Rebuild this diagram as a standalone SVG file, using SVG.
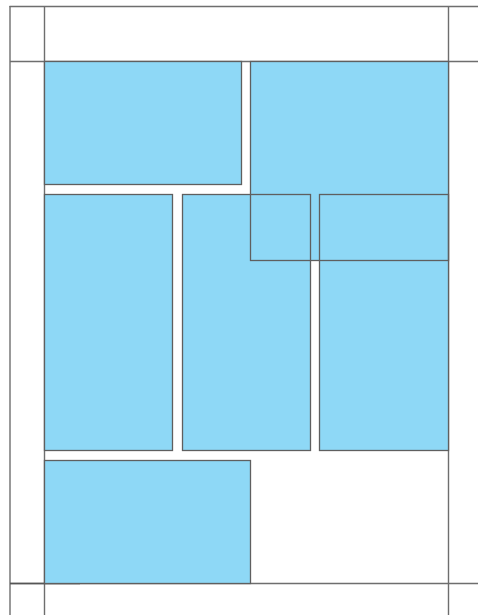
<svg xmlns="http://www.w3.org/2000/svg" width="478" height="615" viewBox="0 0 478 615">
<style>
.fill{fill:#8ed8f6;stroke:none}
.bd{fill:none;stroke:#5f5f5f;stroke-width:1.3}
.fr{stroke:#6e6e6e;stroke-width:1.4;fill:none}
</style>
<rect width="478" height="615" fill="#ffffff"/>
<g id="frame">
<line class="fr" x1="9.5" y1="6.5" x2="478" y2="6.5"/>
<line class="fr" x1="10" y1="6" x2="10" y2="615"/>
<line class="fr" x1="44.5" y1="6" x2="44.5" y2="615"/>
<line class="fr" x1="448.5" y1="6" x2="448.5" y2="615"/>
<line class="fr" x1="10" y1="61.5" x2="478" y2="61.5"/>
<line class="fr" x1="10" y1="583.5" x2="478" y2="583.5"/>
<line stroke="#555" stroke-width="1.6" x1="10" y1="583.5" x2="80" y2="583.5"/>
</g>
<g id="fills">
<rect class="fill" x="44.5" y="61.5" width="197" height="123"/>
<rect class="fill" x="250.5" y="61.5" width="198" height="199"/>
<rect class="fill" x="44.5" y="194.5" width="128" height="256"/>
<rect class="fill" x="182.5" y="194.5" width="128" height="256"/>
<rect class="fill" x="319.5" y="194.5" width="129" height="256"/>
<rect class="fill" x="44.5" y="460.5" width="206" height="123"/>
</g>
<g id="nodeA"><rect class="bd" x="44.5" y="61.5" width="197" height="123"/></g>
<g id="nodeB"><rect class="bd" x="250.5" y="61.5" width="198" height="199"/></g>
<g id="nodeC"><rect class="bd" x="44.5" y="194.5" width="128" height="256"/></g>
<g id="nodeD"><rect class="bd" x="182.5" y="194.5" width="128" height="256"/></g>
<g id="nodeE"><rect class="bd" x="319.5" y="194.5" width="129" height="256"/></g>
<g id="nodeF"><rect class="bd" x="44.5" y="460.5" width="206" height="123"/></g>
<g id="connectors"></g>
</svg>
